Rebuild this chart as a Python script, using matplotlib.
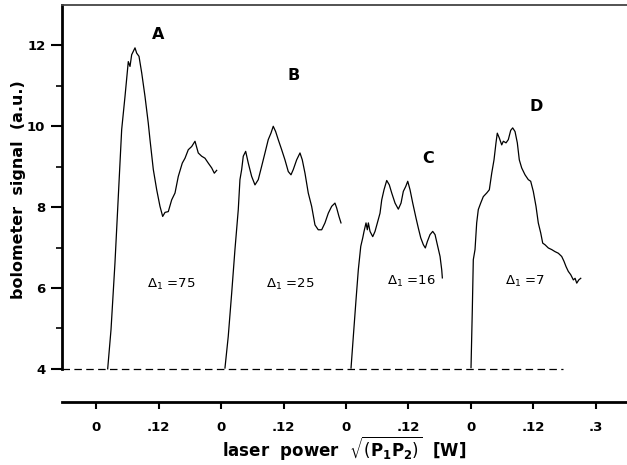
import matplotlib
matplotlib.use("Agg")
import matplotlib.pyplot as plt
from matplotlib.ticker import FixedLocator

# panel-local laser power [W] and bolometer signal [a.u.]
a_x = [0.0219, 0.0283, 0.0359, 0.0423, 0.0488, 0.0552, 0.0615, 0.0648, 0.0680, 0.0744,
       0.0776, 0.0821, 0.0873, 0.0936, 0.0999, 0.1032, 0.1096, 0.1161, 0.1224, 0.1276,
       0.1321, 0.1384, 0.1449, 0.1513, 0.1576, 0.1653, 0.1705, 0.1768, 0.1834, 0.1897,
       0.1960, 0.2025, 0.2089, 0.2152, 0.2218, 0.2268, 0.2314]
a_y = [4.00, 4.97, 6.62, 8.26, 9.92, 10.74, 11.60, 11.48, 11.77, 11.94,
       11.81, 11.73, 11.32, 10.74, 10.08, 9.67, 8.93, 8.43, 8.02, 7.77,
       7.87, 7.89, 8.18, 8.35, 8.76, 9.09, 9.21, 9.42, 9.50, 9.63,
       9.34, 9.26, 9.21, 9.09, 8.97, 8.84, 8.91]

b_x = [0.0073, 0.0136, 0.0202, 0.0265, 0.0329, 0.0361, 0.0394, 0.0425, 0.0471, 0.0521,
       0.0586, 0.0650, 0.0713, 0.0778, 0.0842, 0.0905, 0.0957, 0.1001, 0.1047, 0.1097,
       0.1163, 0.1226, 0.1290, 0.1342, 0.1386, 0.1451, 0.1515, 0.1559, 0.1611, 0.1674,
       0.1739, 0.1803, 0.1866, 0.1932, 0.1995, 0.2059, 0.2124, 0.2187, 0.2220, 0.2264,
       0.2303]
b_y = [4.02, 4.80, 5.87, 6.95, 7.94, 8.68, 8.93, 9.26, 9.38, 9.09,
       8.76, 8.55, 8.68, 9.01, 9.34, 9.67, 9.83, 10.00, 9.87, 9.67,
       9.42, 9.17, 8.88, 8.80, 8.93, 9.17, 9.34, 9.17, 8.84, 8.35,
       8.02, 7.56, 7.44, 7.44, 7.61, 7.85, 8.02, 8.10, 7.98, 7.77,
       7.61]

c_x = [0.0096, 0.0140, 0.0192, 0.0236, 0.0283, 0.0321, 0.0346, 0.0384, 0.0409, 0.0429,
       0.0461, 0.0513, 0.0557, 0.0602, 0.0653, 0.0686, 0.0730, 0.0782, 0.0832, 0.0878,
       0.0942, 0.1005, 0.1057, 0.1101, 0.1147, 0.1186, 0.1230, 0.1282, 0.1345, 0.1390,
       0.1436, 0.1486, 0.1524, 0.1563, 0.1614, 0.1666, 0.1711, 0.1755, 0.1807, 0.1839,
       0.1851]
c_y = [4.02, 4.80, 5.71, 6.45, 7.03, 7.24, 7.40, 7.61, 7.44, 7.61,
       7.40, 7.27, 7.40, 7.61, 7.85, 8.18, 8.43, 8.66, 8.55, 8.35,
       8.10, 7.95, 8.10, 8.39, 8.51, 8.64, 8.43, 8.10, 7.73, 7.48,
       7.24, 7.07, 6.99, 7.15, 7.32, 7.40, 7.32, 7.07, 6.78, 6.45,
       6.25]

d_x = [0.0002, 0.0027, 0.0046, 0.0079, 0.0111, 0.0142, 0.0188, 0.0238, 0.0304, 0.0354,
       0.0400, 0.0444, 0.0482, 0.0507, 0.0546, 0.0592, 0.0623, 0.0675, 0.0719, 0.0765,
       0.0803, 0.0848, 0.0892, 0.0930, 0.0976, 0.1040, 0.1103, 0.1149, 0.1199, 0.1251,
       0.1295, 0.1342, 0.1380, 0.1424, 0.1488, 0.1553, 0.1616, 0.1680, 0.1745, 0.1789,
       0.1828, 0.1872, 0.1918, 0.1969, 0.2002, 0.2034, 0.2073, 0.2111]
d_y = [4.03, 5.46, 6.70, 6.95, 7.61, 7.94, 8.10, 8.26, 8.35, 8.43,
       8.84, 9.17, 9.59, 9.83, 9.71, 9.54, 9.63, 9.59, 9.67, 9.90,
       9.96, 9.87, 9.59, 9.17, 8.97, 8.80, 8.68, 8.64, 8.39, 8.02,
       7.61, 7.36, 7.11, 7.07, 6.99, 6.95, 6.90, 6.86, 6.78, 6.66,
       6.53, 6.41, 6.33, 6.20, 6.24, 6.12, 6.20, 6.24]

names = ["A", "B", "C", "D"]
deltas = ["75", "25", "16", "7"]
offsets = [0.0, 0.24, 0.48, 0.72]   # each trace is shifted along the shared axis
tick_pos = [0.0, 0.12, 0.24, 0.36, 0.48, 0.60, 0.72, 0.84, 0.96]
tick_labels = ["0", ".12", "0", ".12", "0", ".12", "0", ".12", ".3"]

curves = [(a_x, a_y), (b_x, b_y), (c_x, c_y), (d_x, d_y)]
label_xy = [(0.119, 12.28), (0.379, 11.25), (0.637, 9.2), (0.845, 10.5)]
delta_xy = [(0.144, 6.1), (0.373, 6.1), (0.605, 6.15), (0.824, 6.15)]

fig = plt.figure(figsize=(6.27, 4.65), dpi=100)
ax = fig.add_axes([62 / 627, 63 / 465, 565 / 627, 397 / 465])

for (xs, ys), off in zip(curves, offsets):
    ax.plot([x + off for x in xs], ys, color="black", lw=0.9)

ax.plot([-0.0659, 0.897], [4, 4], color="black", lw=0.9, dashes=(6, 3.5))

for name, (lx, ly) in zip(names, label_xy):
    ax.text(lx, ly, name, fontsize=11.5, fontweight="bold", ha="center", va="center")
for d, (dx, dy) in zip(deltas, delta_xy):
    ax.text(dx, dy, r"$\Delta_1$ =" + d, fontsize=9.5, ha="center", va="center")

ax.set_xlim(-0.0659, 1.02)
ax.set_ylim(3.18, 13.0)

ax.spines["right"].set_visible(False)
ax.spines["top"].set_color("#444444")
ax.spines["top"].set_linewidth(1.3)
ax.spines["left"].set_linewidth(2.0)
ax.spines["bottom"].set_linewidth(2.0)
ax.spines["left"].set_bounds(4, 13.0)

ax.xaxis.set_major_locator(FixedLocator(tick_pos))
ax.set_xticklabels(tick_labels)
ax.set_yticks([4, 6, 8, 10, 12])
ax.yaxis.set_minor_locator(FixedLocator([5, 7, 9, 11]))
ax.tick_params(axis="x", direction="out", length=5, width=1.5, pad=9, labelsize=9.5)
ax.tick_params(axis="y", which="major", direction="out", length=8, width=1.5, pad=4, labelsize=9.5)
ax.tick_params(axis="y", which="minor", direction="out", length=4, width=1.2)
for t in ax.get_xticklabels() + ax.get_yticklabels():
    t.set_fontweight("bold")

ax.set_xlabel(r"laser  power  $\sqrt{(\mathbf{P_1P_2})}$  [W]", fontsize=12,
              fontweight="bold", va="center")
ax.xaxis.set_label_coords(0.5, -0.116)
ax.set_ylabel("bolometer  signal  (a.u.)", fontsize=11.5, fontweight="bold", va="center")
ax.yaxis.set_label_coords(-0.077, 0.534)

fig.savefig("out.png", dpi=100)
